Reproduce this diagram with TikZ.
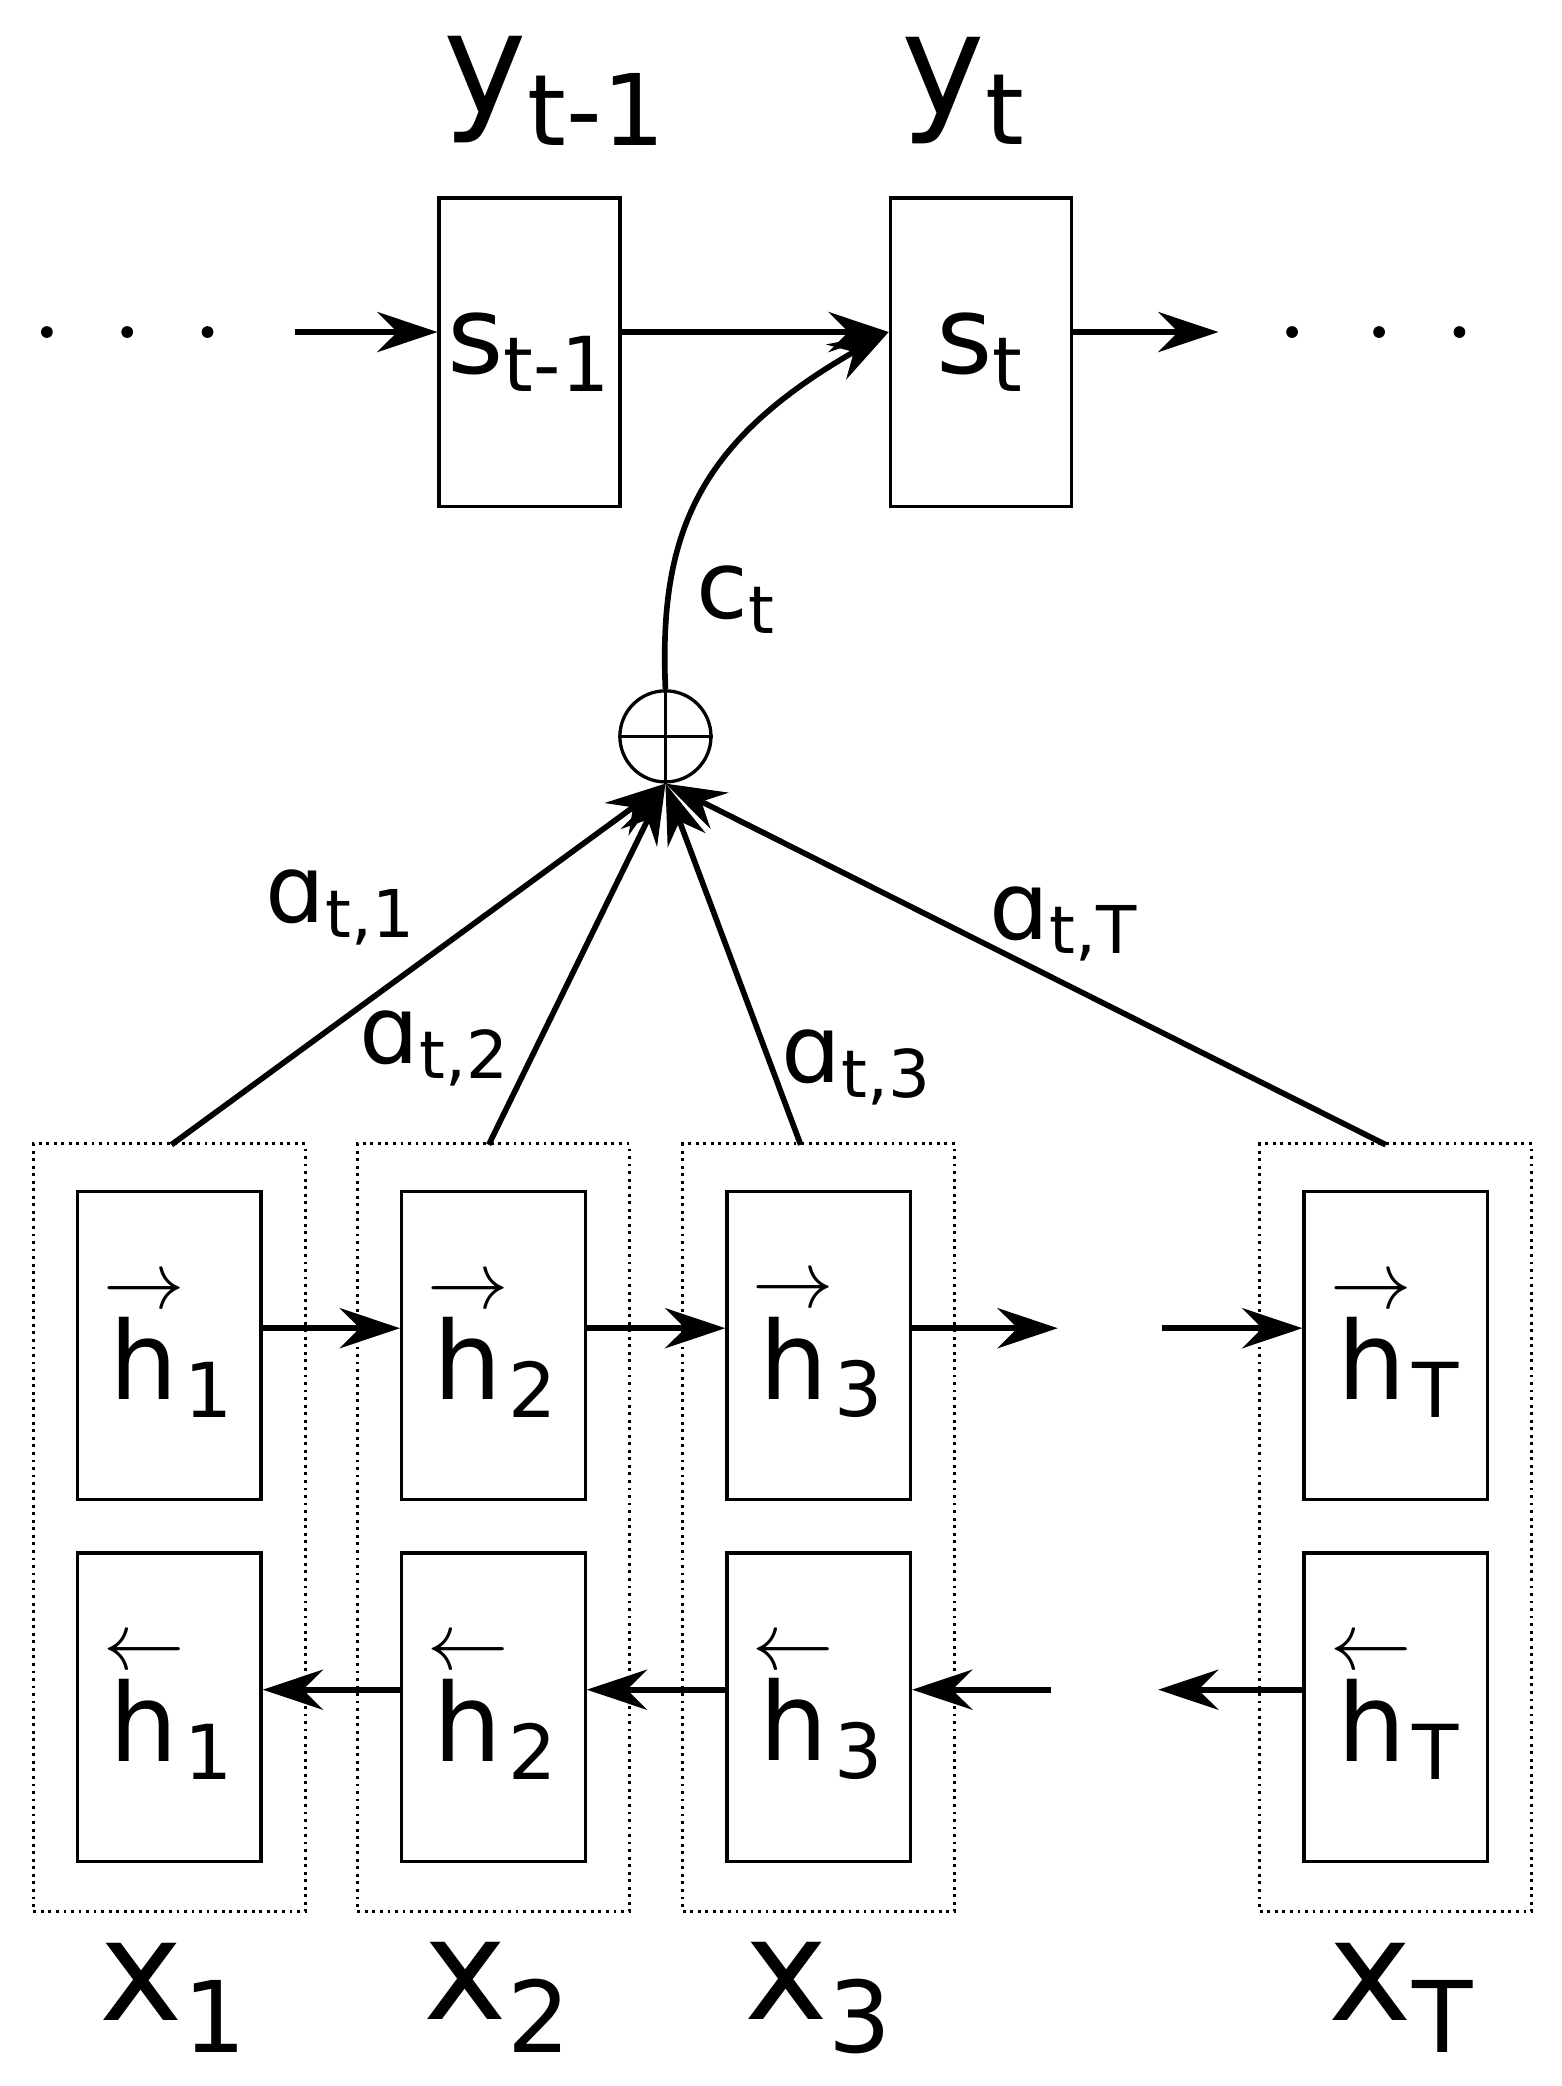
\documentclass[tikz,border=0pt]{standalone}
\usepackage{fontspec}
\setmainfont{DejaVu Sans}
\usetikzlibrary{arrows.meta}
\newcommand{\fw}[1]{$\stackrel{\rightarrow}{\mbox{h}}$\textsubscript{#1}}
\newcommand{\bw}[1]{$\stackrel{\leftarrow}{\mbox{h}}$\textsubscript{#1}}
\begin{document}
\begin{tikzpicture}[
            x=0.01cm, y=-0.01cm,
            state node/.style={rectangle,draw,line width=0.7pt,inner sep=0pt,minimum width=1.35cm,minimum height=2.3cm,font=\fontsize{23}{25}\selectfont},
            hidden node/.style={rectangle,draw,line width=0.7pt,inner sep=0pt,minimum width=1.37cm,minimum height=2.3cm,font=\fontsize{23}{25}\selectfont},
            group node/.style={rectangle,draw,densely dotted,line width=0.6pt,inner sep=0pt,minimum width=2.03cm,minimum height=5.73cm},
            io label/.style={font=\fontsize{30}{32}\selectfont},
            weight label/.style={font=\fontsize{20}{22}\selectfont},
            flow/.style={draw,line width=1.2pt,-{Stealth[length=4.5mm,width=3mm,inset=1.5mm]}},
            dot/.style={circle,fill,inner sep=0pt,minimum size=2.5pt},
        ]
            \useasboundingbox (0,0) rectangle (1166,1558);
            % decoder
            \node[state node] (s1) at (395.5,263) {s\textsubscript{t-1}};
            \node[state node] (s2) at (732.5,263) {s\textsubscript{t}};
            \node[io label] (y1) at (415,68) {y\textsubscript{t-1}};
            \node[io label] (y2) at (720,68) {y\textsubscript{t}};
            \foreach \x [count=\i] in {35,95,155} \node[dot] (dl\i) at (\x,248) {};
            \foreach \x [count=\i] in {965,1030,1090} \node[dot] (dr\i) at (\x,248) {};
            \coordinate (sin) at (220,248);
            \coordinate (sout) at (910,248);
            \path[flow] (sin) -- (s1.west |- sin);
            \path[flow] (s1.east |- sin) -- (s2.west |- sin);
            \path[flow] (s2.east |- sout) -- (sout);

            % context
            \node[circle,draw,line width=0.7pt,minimum size=0.68cm,inner sep=0pt] (sum) at (497,550) {};
            \draw[line width=0.7pt] (sum.north) -- (sum.south) (sum.west) -- (sum.east);
            \path[flow] (sum.north) .. controls (492,400) and (520,330) .. (s2.west |- sin);
            \node[weight label] (c) at (550,448) {c\textsubscript{t}};

            % encoder
            \foreach \n/\x/\s in {1/126.5/1,2/368.5/2,3/611.5/3,T/1042.5/T} {
                \node[group node] (g\n) at (\x,1141) {};
                \node[hidden node] (f\n) at (\x,1005) {\fw{\s}};
                \node[hidden node] (b\n) at (\x,1275) {\bw{\s}};
            }
            \foreach \n/\x in {1/130,2/372,3/612,T/1047}
                \node[io label] (x\n) at (\x,1492) {x\textsubscript{\n}};
            \coordinate (fo) at (790,992);
            \coordinate (fi) at (868,992);
            \coordinate (bo) at (785,1262);
            \coordinate (bi) at (865,1262);
            \path[flow] (f1.east |- fo) -- (f2.west |- fo);
            \path[flow] (f2.east |- fo) -- (f3.west |- fo);
            \path[flow] (f3.east |- fo) -- (fo);
            \path[flow] (fi) -- (fT.west |- fi);
            \path[flow] (b2.west |- bo) -- (b1.east |- bo);
            \path[flow] (b3.west |- bo) -- (b2.east |- bo);
            \path[flow] (bo) -- (b3.east |- bo);
            \path[flow] (bT.west |- bi) -- (bi);

            % weights
            \path[flow] (128,855) -- (sum.south);
            \path[flow] (365,855) -- (sum.south);
            \path[flow] (598,855) -- (sum.south);
            \path[flow] (1035,855) -- (sum.south);
            \node[weight label] (a1) at (255,678) {ɑ\textsubscript{t,1}};
            \node[weight label] (a2) at (325,783) {ɑ\textsubscript{t,2}};
            \node[weight label] (a3) at (640,797) {ɑ\textsubscript{t,3}};
            \node[weight label] (aT) at (795,690) {ɑ\textsubscript{t,T}};
        \end{tikzpicture}
\end{document}
